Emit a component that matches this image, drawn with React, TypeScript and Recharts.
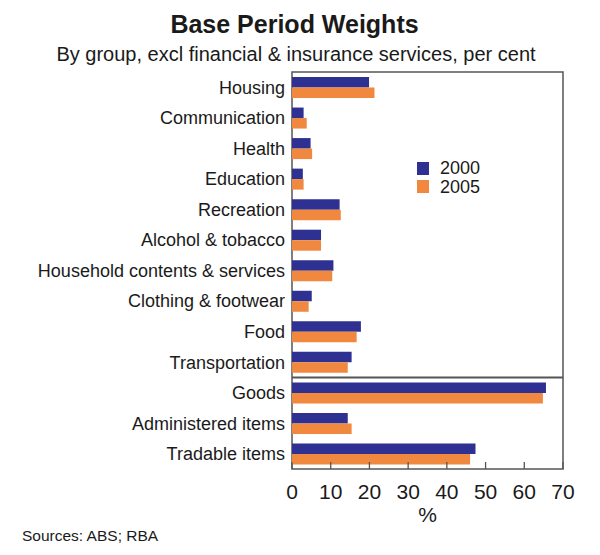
import React from 'react';
import {
  BarChart,
  Bar,
  XAxis,
  YAxis,
  ReferenceArea,
  ReferenceLine,
} from 'recharts';

const categories = [
  'Housing',
  'Communication',
  'Health',
  'Education',
  'Recreation',
  'Alcohol & tobacco',
  'Household contents & services',
  'Clothing & footwear',
  'Food',
  'Transportation',
  'Goods',
  'Administered items',
  'Tradable items',
];
const weights2000 = [19.9, 3.0, 4.8, 2.8, 12.3, 7.5, 10.7, 5.1, 17.8, 15.4, 65.6, 14.4, 47.4];
const weights2005 = [21.3, 3.8, 5.2, 3.0, 12.6, 7.5, 10.4, 4.3, 16.7, 14.4, 64.8, 15.4, 46.0];
const xTicks = [0, 10, 20, 30, 40, 50, 60, 70];
const seriesNames = ['2000', '2005'];

const NAVY = '#2E3092';
const ORANGE = '#F0883F';
const FRAME = '#555555';
const FONT = '"Liberation Sans", Arial, sans-serif';

const data = categories.map((name, i) => ({
  name,
  y2000: weights2000[i],
  y2005: weights2005[i],
}));

// ticks point up into the plot, labels sit below the axis
const XTick = (props: any) => {
  const { x, y, payload } = props;
  return (
    <g>
      <line x1={x} x2={x} y1={y} y2={y - 7} stroke={FRAME} strokeWidth={1.3} />
      <text x={x} y={y + 30} textAnchor="middle" fontSize={21} fontFamily={FONT} fill="#1a1a1a">
        {payload.value}
      </text>
    </g>
  );
};

const LegendBox = () => (
  <div
    style={{
      position: 'absolute',
      left: 417,
      top: 159,
      fontFamily: FONT,
      fontSize: 18,
      color: '#1a1a1a',
    }}
  >
    {seriesNames.map((label, i) => (
      <div key={label} style={{ display: 'flex', alignItems: 'center', height: 18.5 }}>
        <span
          style={{
            width: 12,
            height: 13,
            background: i === 0 ? NAVY : ORANGE,
            marginRight: 11,
            display: 'inline-block',
          }}
        />
        <span style={{ lineHeight: '18px' }}>{label}</span>
      </div>
    ))}
  </div>
);

export default function App() {
  return (
    <div style={{ position: 'absolute', left: 0, top: 0, width: 600, height: 555, background: '#fff' }}>
      <svg width={600} height={555} style={{ position: 'absolute', left: 0, top: 0, pointerEvents: 'none' }}>
        <text x={294.5} y={33} textAnchor="middle" fontSize={25} fontWeight="bold" fontFamily={FONT} fill="#1a1a1a">
          Base Period Weights
        </text>
        <text x={296} y={61} textAnchor="middle" fontSize={20} fontFamily={FONT} fill="#1a1a1a">
          By group, excl financial &amp; insurance services, per cent
        </text>
        <text x={22} y={540.5} fontSize={15.5} fontFamily={FONT} fill="#1a1a1a">
          Sources: ABS; RBA
        </text>
      </svg>
      <BarChart
        width={600}
        height={555}
        data={data}
        layout="vertical"
        margin={{ top: 72, right: 37, bottom: 0, left: 0 }}
        barSize={10.5}
        barGap={0}
      >
        <XAxis
          type="number"
          domain={[0, 70]}
          ticks={xTicks}
          height={86}
          axisLine={false}
          tickLine={false}
          tickSize={0}
          tickMargin={0}
          tick={<XTick />}
          interval={0}
          label={{ value: '%', position: 'insideBottom', offset: 33, fontSize: 21, fontFamily: FONT, fill: '#1a1a1a' }}
        />
        <YAxis
          type="category"
          dataKey="name"
          width={292}
          axisLine={false}
          tickLine={false}
          tickSize={0}
          tickMargin={7}
          interval={0}
          tick={{ fontSize: 18, fontFamily: FONT, fill: '#1a1a1a' }}
        />
        <Bar dataKey="y2000" name={seriesNames[0]} fill={NAVY} isAnimationActive={false} />
        <Bar dataKey="y2005" name={seriesNames[1]} fill={ORANGE} isAnimationActive={false} />
        <ReferenceArea x1={0} x2={70} fill="none" stroke={FRAME} strokeWidth={1.5} />
        <ReferenceLine y="Goods" position="start" stroke={FRAME} strokeWidth={2} />
      </BarChart>
      <LegendBox />
    </div>
  );
}
